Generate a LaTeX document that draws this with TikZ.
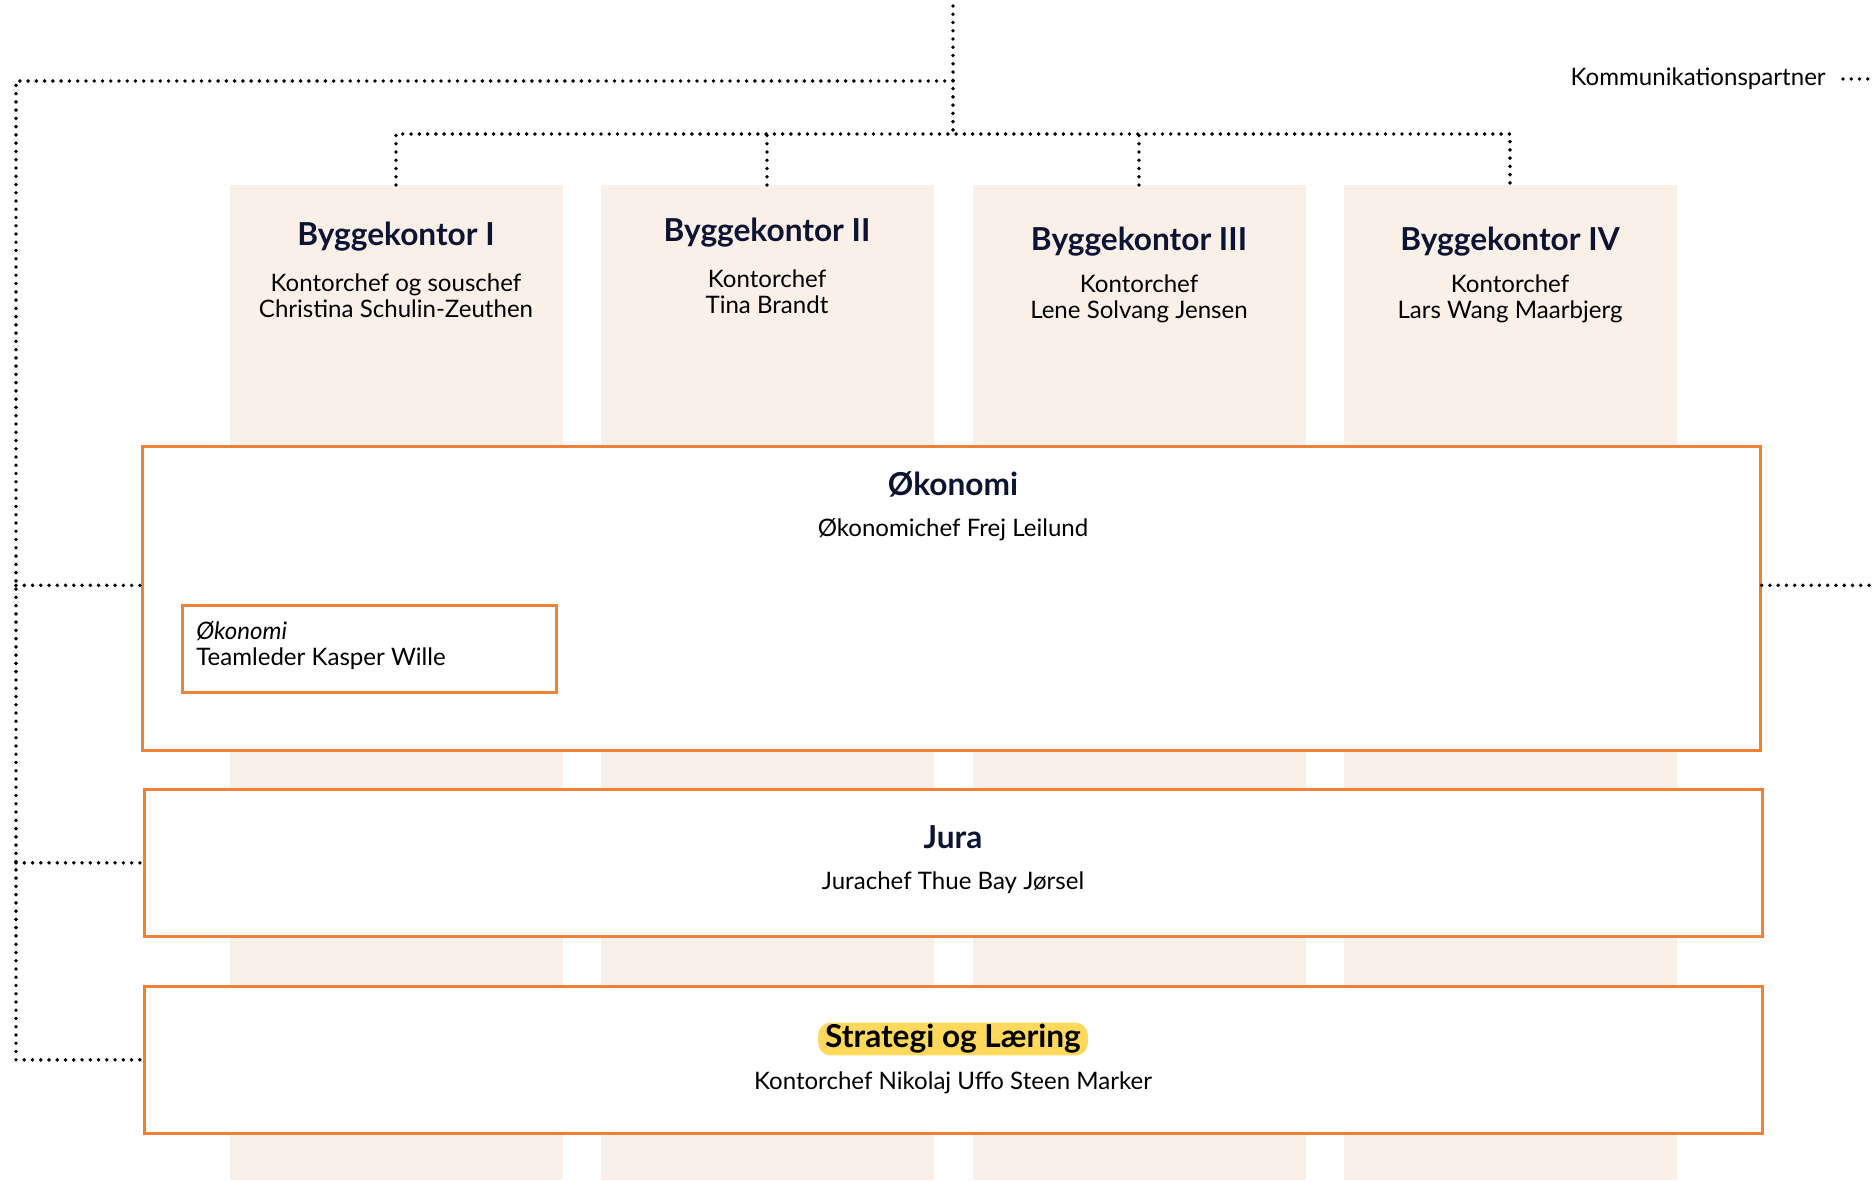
\documentclass[tikz,border=0pt]{standalone}
\usepackage{fontspec}
\setmainfont{Lato}
\usetikzlibrary{positioning}
\definecolor{peach}{RGB}{251,240,232}
\definecolor{brandorange}{RGB}{239,128,58}
\definecolor{navy}{RGB}{12,20,52}
\definecolor{marker}{RGB}{255,216,92}
\def\pu{0.02cm}
\begin{document}
\begin{tikzpicture}[x=\pu, y=-\pu,
  office/.style={fill=peach, minimum width=333*\pu, minimum height=995*\pu, anchor=north, inner sep=0pt},
  unit/.style={draw=brandorange, fill=white, line width=1.5pt, minimum width=1618*\pu, anchor=north west, inner sep=0pt},
  team/.style={draw=brandorange, fill=white, line width=1.5pt, minimum width=374*\pu, minimum height=87*\pu, anchor=north west, inner sep=0pt},
  title/.style={font=\fontsize{18}{21}\selectfont\bfseries, text=navy, inner sep=0pt},
  sub/.style={font=\fontsize{13.7}{14.8}\selectfont, align=center, inner sep=0pt},
  link/.style={line width=2.2pt, line cap=round, dash pattern=on 0pt off 4.7pt},
]
\useasboundingbox (0,0) rectangle (1875,1180);

% Byggekontorer
\node[office] (bk1) at (396,185) {};
\node[office] (bk2) at (767,185) {};
\node[office] (bk3) at (1139,185) {};
\node[office] (bk4) at (1510,185) {};

\node[title] (t1) at (396,237) {Byggekontor I};
\node[sub] (s1) at (396,296) {Kontorchef og souschef\\Christina Schulin-Zeuthen};
\node[title] (t2) at (767,233) {Byggekontor II};
\node[sub] (s2) at (767,292) {Kontorchef\\Tina Brandt};
\node[title] (t3) at (1139,242) {Byggekontor III};
\node[sub] (s3) at (1139,299) {Kontorchef\\Lene Solvang Jensen};
\node[title] (t4) at (1510,242) {Byggekontor IV};
\node[sub] (s4) at (1510,299) {Kontorchef\\Lars Wang Maarbjerg};

% Tværgående enheder
\node[unit, minimum height=304*\pu] (oek) at (141,445) {};
\node[title] (oekt) at (953,484) {Økonomi};
\node[sub] (oeks) at (953,530) {Økonomichef Frej Leilund};
\node[team] (team) at (181,604) {};
\node[sub, align=left, anchor=west] (teamt) at (196,646) {\itshape Økonomi\\Teamleder Kasper Wille};

\node[unit, minimum height=147*\pu] (jura) at (143,788) {};
\node[title] (jurat) at (953,837) {Jura};
\node[sub] (juras) at (953,883) {Jurachef Thue Bay Jørsel};

\node[unit, minimum height=147*\pu] (strat) at (143,985) {};
\node[title, text=black, fill=marker, rounded corners=7pt, inner xsep=4pt, inner ysep=1pt] (stratt) at (953,1039) {Strategi og Læring};
\node[sub] (strats) at (953,1083) {Kontorchef Nikolaj Uffo Steen Marker};

\node[sub, anchor=east] (kom) at (1826,79) {Kommunikationspartner};

% forbindelser
\coordinate (top) at (953,6);
\coordinate (hub) at (953,134);
\coordinate (spine) at (953,81);
\coordinate (rail) at (16,81);
\coordinate (edge) at (1875,0);

\draw[link] (top) -- (hub);
\draw[link] (bk1.north) |- (hub) -| (bk4.north);
\draw[link] (bk2.north) -- (bk2.north |- hub);
\draw[link] (bk3.north) -- (bk3.north |- hub);
\draw[link] (spine) -- (rail) |- (strat.west);
\draw[link] (rail |- jura.west) -- (jura.west);
\draw[link] ([yshift=0.26cm]oek.west -| rail) -- ([yshift=0.26cm]oek.west);
\draw[link] ([yshift=0.26cm]oek.east) -- ([yshift=0.26cm]oek.east -| edge);
\draw[link] ([xshift=0.34cm]kom.east) -- (kom.east -| edge);
\end{tikzpicture}
\end{document}
